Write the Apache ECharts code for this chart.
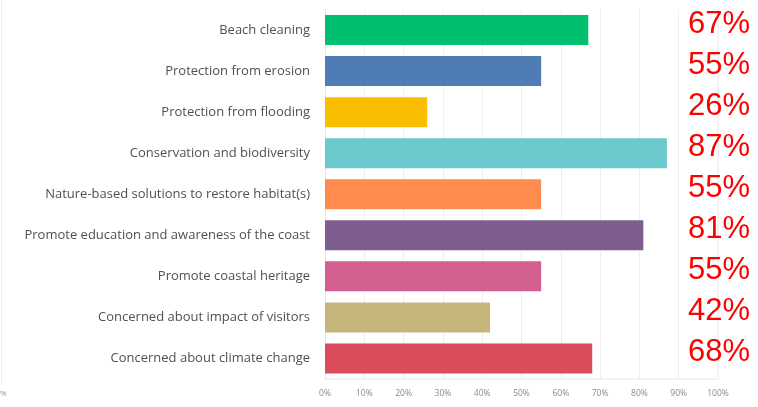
<!DOCTYPE html>
<html>
<head>
<meta charset="utf-8">
<script src="https://cdn.jsdelivr.net/npm/echarts@6/dist/echarts.min.js"></script>
<style>
  html, body { margin: 0; padding: 0; background: #ffffff; }
  #chart { width: 758px; height: 407px; }
</style>
</head>
<body>
<div id="chart"></div>
<script>
// Survey answers, listed top to bottom
const categories = [
  'Beach cleaning',
  'Protection from erosion',
  'Protection from flooding',
  'Conservation and biodiversity',
  'Nature-based solutions to restore habitat(s)',
  'Promote education and awareness of the coast',
  'Promote coastal heritage',
  'Concerned about impact of visitors',
  'Concerned about climate change'
];
// Share of respondents (%)
const percentages = [67, 55, 26, 87, 55, 81, 55, 42, 68];
const barColors = ['#00BF6F', '#507CB6', '#F9BE00', '#6BC8CD', '#FF8B4F', '#7D5E8F', '#D25F90', '#C5B67C', '#DB4D5C'];
const tickLabels = ['0%', '10%', '20%', '30%', '40%', '50%', '60%', '70%', '80%', '90%', '100%'];

// category axis runs top-down, so reverse for ECharts' bottom-up order
const yCats = categories.slice().reverse();
const yVals = percentages.slice().reverse();
const yCols = barColors.slice().reverse();

const chart = echarts.init(document.getElementById('chart'), null, { renderer: 'canvas' });
chart.setOption({
  animation: false,
  backgroundColor: '#ffffff',
  grid: { left: 325, right: 40, top: 9.5, bottom: 28, containLabel: false },
  xAxis: {
    type: 'value',
    min: 0,
    max: 100,
    interval: 10,
    axisLine: { show: false },
    axisTick: { show: false },
    splitLine: { show: true, lineStyle: { color: '#efefef', width: 1 } },
    axisLabel: {
      color: '#8a8a8a',
      fontSize: 8.5,
      fontFamily: 'Open Sans',
      margin: 10,
      formatter: (v) => tickLabels[Math.round(v / 10)]
    }
  },
  yAxis: {
    type: 'category',
    data: yCats,
    axisLine: { show: true, lineStyle: { color: '#e6e6e6' } },
    axisTick: { show: false },
    axisLabel: {
      color: '#505050',
      fontSize: 13,
      fontFamily: 'Open Sans',
      margin: 15
    }
  },
  series: [{
    type: 'bar',
    barWidth: 30,
    data: yVals.map((v, i) => ({ value: v, itemStyle: { color: yCols[i] } })),
    label: {
      show: true,
      position: [363, 15],
      offset: [0, -6],
      align: 'left',
      verticalAlign: 'middle',
      formatter: (p) => p.value + '%',
      color: '#ff0000',
      fontSize: 31,
      fontFamily: 'Liberation Sans'
    }
  }],
  graphic: [
    { type: 'line', shape: { x1: 325, y1: 379, x2: 718, y2: 379 }, style: { stroke: '#e6e6e6', lineWidth: 1 } },
    { type: 'line', shape: { x1: 718, y1: 9, x2: 718, y2: 379 }, style: { stroke: '#efefef', lineWidth: 1 } },
    { type: 'line', shape: { x1: 1.5, y1: 0, x2: 1.5, y2: 385 }, style: { stroke: '#f0f0f0', lineWidth: 1 } },
    { type: 'text', left: 0, top: 390, style: { text: '%', fill: '#999999', fontSize: 8, fontFamily: 'Open Sans' } }
  ]
});
</script>
</body>
</html>
